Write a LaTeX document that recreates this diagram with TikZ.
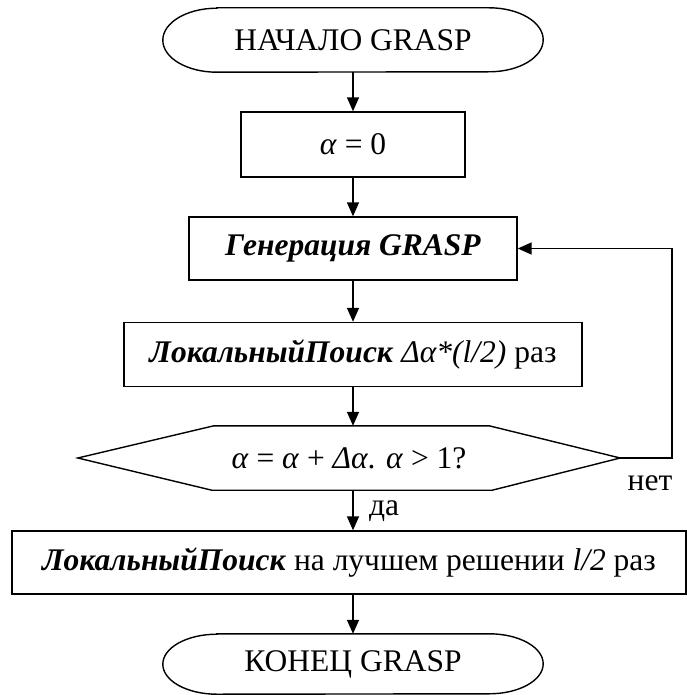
\documentclass[tikz,border=0pt]{standalone}
\usepackage{fontspec}
\setmainfont{Liberation Serif}
\usetikzlibrary{arrows.meta}
\tikzset{
  box/.style={draw, line width=1.4pt, rectangle, inner sep=0pt, font=\fontsize{31.5}{36}\selectfont},
  ghost/.style={rectangle, inner sep=0pt, font=\fontsize{31.5}{36}\selectfont},
  outline/.style={line width=1.4pt},
  arr/.style={line width=1.6pt, -{Triangle[length=14pt,width=12pt]}},
  lbl/.style={inner sep=0pt, font=\fontsize{31.5}{36}\selectfont}
}
\begin{document}
\begin{tikzpicture}[x=1pt,y=-1pt]
\useasboundingbox (0,0) rectangle (686,695);
% start terminal
\node[ghost, minimum width=380pt, minimum height=64pt] (start) at (353,40) {НАЧАЛО GRASP};
\draw[outline] ([xshift=54pt]start.north west) -- ([xshift=-54pt]start.north east)
  arc[start angle=90,end angle=-90,x radius=54pt,y radius=32pt]
  -- ([xshift=54pt]start.south west)
  arc[start angle=270,end angle=90,x radius=54pt,y radius=32pt] -- cycle;
% alpha = 0
\node[box, minimum width=224pt, minimum height=65pt] (a0) at (353,144.5) {\textit{α} = 0};
% generation
\node[box, minimum width=328pt, minimum height=63pt] (gen) at (353,248.5) {\textbf{\textit{Генерация GRASP}}};
% local search
\node[box, minimum width=458pt, minimum height=64pt] (ls) at (353,354.5) {\textbf{\textit{ЛокальныйПоиск}} \textit{Δα*(l/2)} раз};
% decision hexagon
\node[ghost, minimum width=542pt, minimum height=64pt] (dec) at (349,458) {\textit{α} = \textit{α} + \textit{Δα}. \textit{α} > 1?};
\draw[outline] (dec.west) -- ([xshift=136pt]dec.north west) -- ([xshift=-131pt]dec.north east)
  -- (dec.east) -- ([xshift=-128pt]dec.south east) -- ([xshift=134pt]dec.south west) -- cycle;
% best
\node[box, minimum width=674pt, minimum height=63pt] (best) at (349,562.5) {\textbf{\textit{ЛокальныйПоиск}} на лучшем решении \textit{l/2} раз};
% end terminal
\node[ghost, minimum width=380pt, minimum height=60pt] (end) at (353,664) {КОНЕЦ GRASP};
\draw[outline] ([xshift=54pt]end.north west) -- ([xshift=-54pt]end.north east)
  arc[start angle=90,end angle=-90,x radius=54pt,y radius=30pt]
  -- ([xshift=54pt]end.south west)
  arc[start angle=270,end angle=90,x radius=54pt,y radius=30pt] -- cycle;
% labels
\node[lbl, anchor=west] (yes) at (369,511) {да};
\node[lbl] (no) at (650,483) {нет};
\coordinate (loopA) at (672,458);
\coordinate (loopB) at (672,248.5);
% connectors
\draw[arr] (start.south) -- (a0.north);
\draw[arr] (a0.south) -- (gen.north);
\draw[arr] (gen.south) -- (ls.north);
\draw[arr] (ls.south) -- (ls.south |- dec.north);
\draw[arr] (ls.south |- dec.south) -- (ls.south |- best.north);
\draw[arr] (end.north |- best.south) -- (end.north);
\draw[arr] (dec.east) -- (loopA) -- (loopB) -- (gen.east);
\end{tikzpicture}
\end{document}
